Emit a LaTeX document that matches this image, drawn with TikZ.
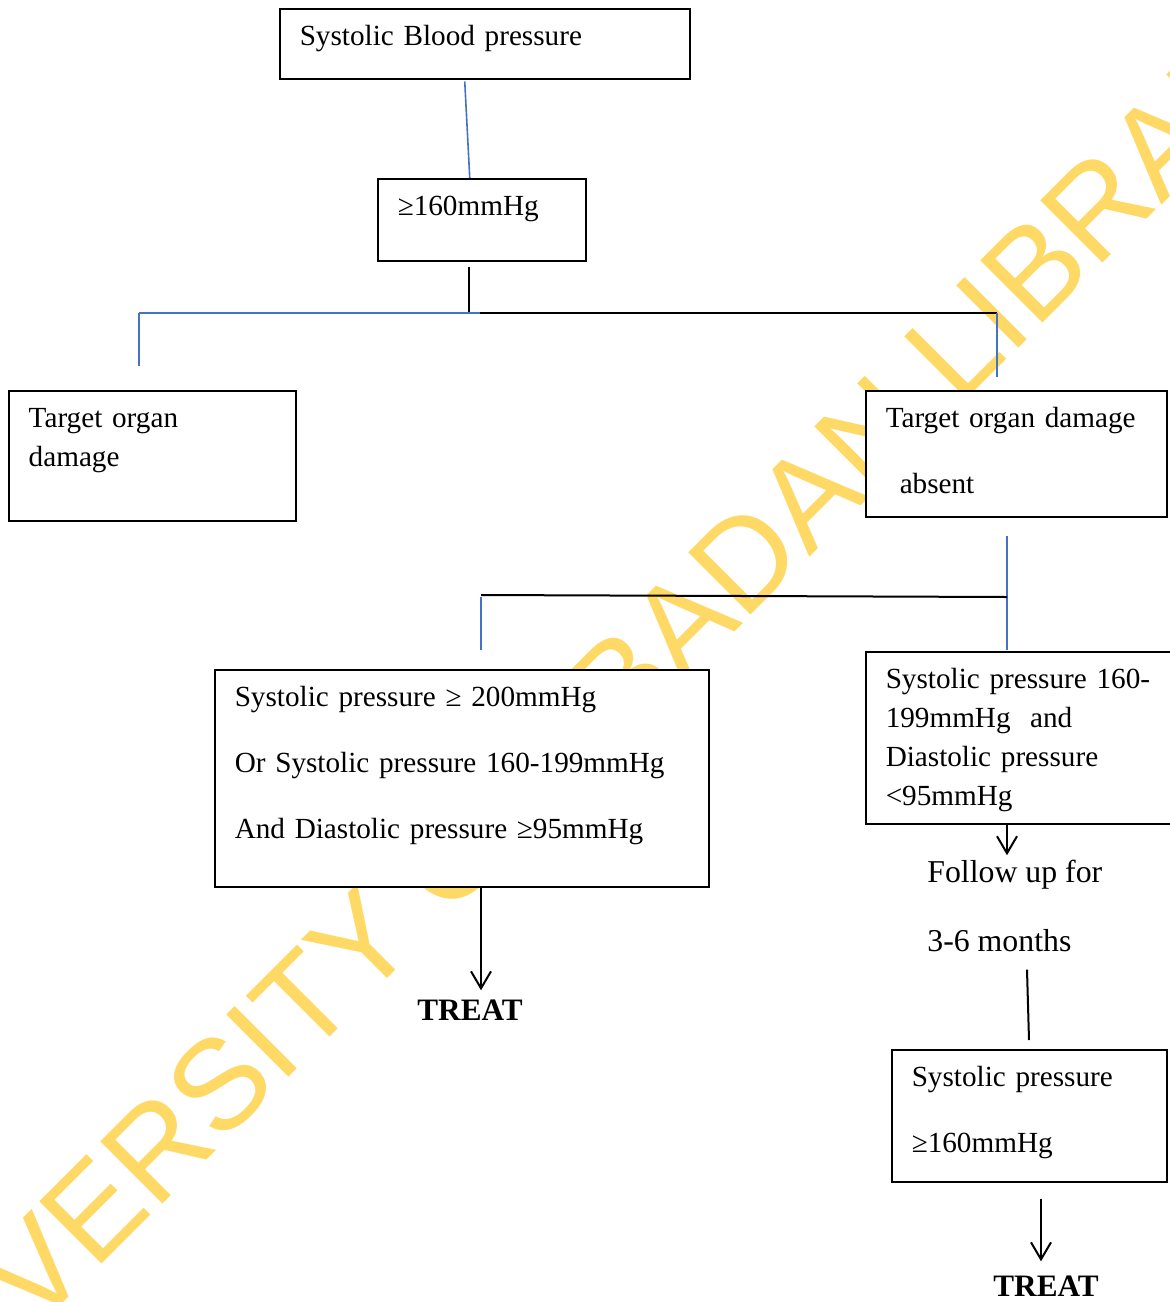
\documentclass[tikz,border=0pt]{standalone}
\usepackage{fontspec}
\setmainfont{Liberation Serif}
\newfontfamily\wmfont{Liberation Sans}
\usetikzlibrary{arrows.meta}
\definecolor{lineblue}{HTML}{4472C4}
\definecolor{wmyellow}{HTML}{FFD966}

\begin{document}
\begin{tikzpicture}[x=0.5pt,y=-0.5pt,
    box/.style={draw, line width=0.75pt, fill=white, anchor=north west, align=left,
        inner xsep=10pt, inner ysep=0pt, text height=18.5pt,
        font=\fontsize{14.6}{19.5}\selectfont},
    wire/.style={line width=1pt},
    bluewire/.style={lineblue, line width=0.8pt},
    arr/.style={line width=1pt, -{Straight Barb[length=8.5pt,width=10pt]}},
    plain/.style={font=\fontsize{15.9}{19}\selectfont, inner sep=0pt},
    treat/.style={font=\fontsize{15.6}{18}\selectfont\bfseries, inner sep=0pt}]
    \useasboundingbox (0,0) rectangle (1170,1302);
    \clip (0,0) rectangle (1170,1302);
    % watermark
    \node[rotate=45, text=wmyellow, font=\wmfont\fontsize{64}{64}\selectfont, inner sep=0pt] (wm) at (581,723) {UNIVERSITY OF IBADAN LIBRARY};
    % boxes
    \node[box, text width=185pt, text depth=16.5pt] (sbp) at (279,8) {Systolic Blood pressure};
    \node[box, text width=84pt, text depth=22.5pt] (ge) at (377,178) {≥160mmHg};
    \node[box, text width=123.5pt, text depth=46.5pt] (todl) at (8,390) {Target organ\\damage};
    \node[box, text width=130.5pt, text depth=44.5pt] (todr) at (865,390) {Target organ damage\\[13.5pt]\hspace*{7pt}absent};
    \node[box, text width=227pt, text depth=90pt] (mid) at (214,669) {Systolic pressure ≥ 200mmHg\\[13.5pt]Or Systolic pressure 160-199mmHg\\[13.5pt]And Diastolic pressure ≥95mmHg};
    \node[box, text width=142pt, text depth=67.5pt] (rtwo) at (865,651) {\mbox{Systolic pressure 160-}\\199mmHg~ and\\Diastolic pressure\\<95mmHg};
    \node[box, text width=117.5pt, text depth=47.5pt] (rthree) at (891,1049) {Systolic pressure\\[13.5pt]≥160mmHg};
    % texts
    \node[plain, anchor=base west] (folla) at (927,882) {Follow up for};
    \node[plain, anchor=base west] (follb) at (927,951) {3-6 months};
    \node[treat] (treatl) at (470,1010) {TREAT};
    \node[treat] (treatr) at (1046,1286) {TREAT};
    % junctions
    \coordinate (ja) at (469,313);
    \coordinate (jal) at (139,313);
    \coordinate (jar) at (997,313);
    \coordinate (jb) at (1007,597);
    \coordinate (jbl) at (481,595);
    % connectors
    \draw[bluewire] ([xshift=-8.5pt,yshift=-1pt]sbp.south -| ge.north) -- ([xshift=-6pt]ge.north);
    \draw[wire] ([yshift=-2.5pt]ge.south -| ja) -- (ja);
    \draw[bluewire] (jal) -- (480,313);
    \draw[wire] (480,313) -- (jar);
    \draw[bluewire] (jal) -- ([yshift=12pt]todl.north -| jal);
    \draw[bluewire] (jar) -- ([yshift=6.5pt]todr.north -| jar);
    \draw[bluewire] ([yshift=-9pt]todr.south -| jb) -- ([yshift=0.5pt]rtwo.north -| jb);
    \draw[wire] (jbl) -- (jb);
    \draw[bluewire] ([yshift=-1pt]jbl) -- ([yshift=9.5pt]mid.north -| jbl);
    \draw[arr] (mid.south -| jbl) -- ([yshift=4.5pt]treatl.north -| jbl);
    \draw[arr] (rtwo.south -| jb) -- ([yshift=2pt]folla.north -| jb);
    \draw[wire] ([yshift=-9pt]follb.south -| 1027,0) -- ([yshift=4.5pt]rthree.north -| 1029,0);
    \draw[arr] ([yshift=-8pt]rthree.south -| 1041,0) -- ([yshift=7pt]treatr.north -| 1041,0);
\end{tikzpicture}
\end{document}
